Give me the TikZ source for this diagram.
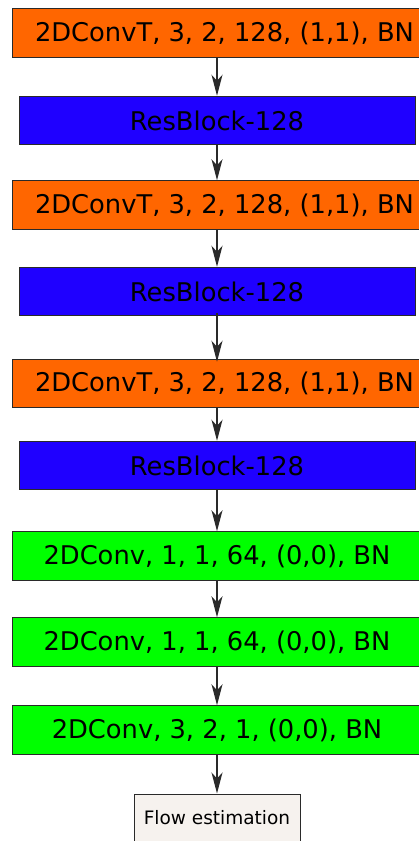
\documentclass[tikz,border=0pt]{standalone}
\usepackage{fontspec}
\setmainfont{DejaVu Sans}
\usetikzlibrary{arrows.meta}
\definecolor{orangeT}{HTML}{FF6600}
\definecolor{blueR}{HTML}{1F00FF}
\definecolor{greenC}{HTML}{00FF00}
\definecolor{flowbg}{HTML}{F6F2EE}
\definecolor{edgec}{HTML}{2A2A2A}
\begin{document}
\begin{tikzpicture}[x=1pt,y=-1pt,
  blk/.style={draw=edgec,line width=1pt,inner sep=0pt,minimum height=48.5pt,
    font=\fontsize{25.75}{30}\selectfont,text=black},
  convt/.style={blk,fill=orangeT,minimum width=425pt},
  resb/.style={blk,fill=blueR,minimum width=396pt},
  conv/.style={blk,fill=greenC,minimum width=410pt},
  flowbox/.style={draw=edgec,line width=1pt,inner sep=0pt,fill=flowbg,
    minimum width=166pt,minimum height=48pt,font=\fontsize{18.5}{22}\selectfont},
  arr/.style={draw=edgec,line width=1.3pt,-{Stealth[length=21pt,width=11pt,inset=6pt]}}]
\useasboundingbox (0,0) rectangle (419,841);
\clip (0,0) rectangle (419,841);
\node[convt] (b1) at (224.5,33) {2DConvT, 3, 2, 128, (1,1), BN};
\node[resb] (b2) at (217,120.5) {ResBlock-128};
\node[convt] (b3) at (224.5,205) {2DConvT, 3, 2, 128, (1,1), BN};
\node[resb] (b4) at (217,291.5) {ResBlock-128};
\node[convt] (b5) at (224.5,383.5) {2DConvT, 3, 2, 128, (1,1), BN};
\node[resb] (b6) at (217,465.5) {ResBlock-128};
\node[conv] (b7) at (217,556) {2DConv, 1, 1, 64, (0,0), BN};
\node[conv] (b8) at (217,642) {2DConv, 1, 1, 64, (0,0), BN};
\node[conv] (b9) at (217,730) {2DConv, 3, 2, 1, (0,0), BN};
\node[flowbox] (b10) at (217,818) {Flow estimation};
\draw[arr] (b1.south -| b2.north) -- (b2.north);
\draw[arr] (b2.south) -- (b3.north -| b2.south);
\draw[arr] (b3.south -| b4.north) -- (b4.north);
\draw[arr] ([yshift=3pt]b4.south) -- ([yshift=-3pt]b5.north -| b4.south);
\draw[arr] (b5.south -| b6.north) -- (b6.north);
\draw[arr] (b6.south) -- (b7.north);
\draw[arr] (b7.south) -- (b8.north);
\draw[arr] (b8.south) -- (b9.north);
\draw[arr] (b9.south) -- (b10.north);
\end{tikzpicture}
\end{document}
